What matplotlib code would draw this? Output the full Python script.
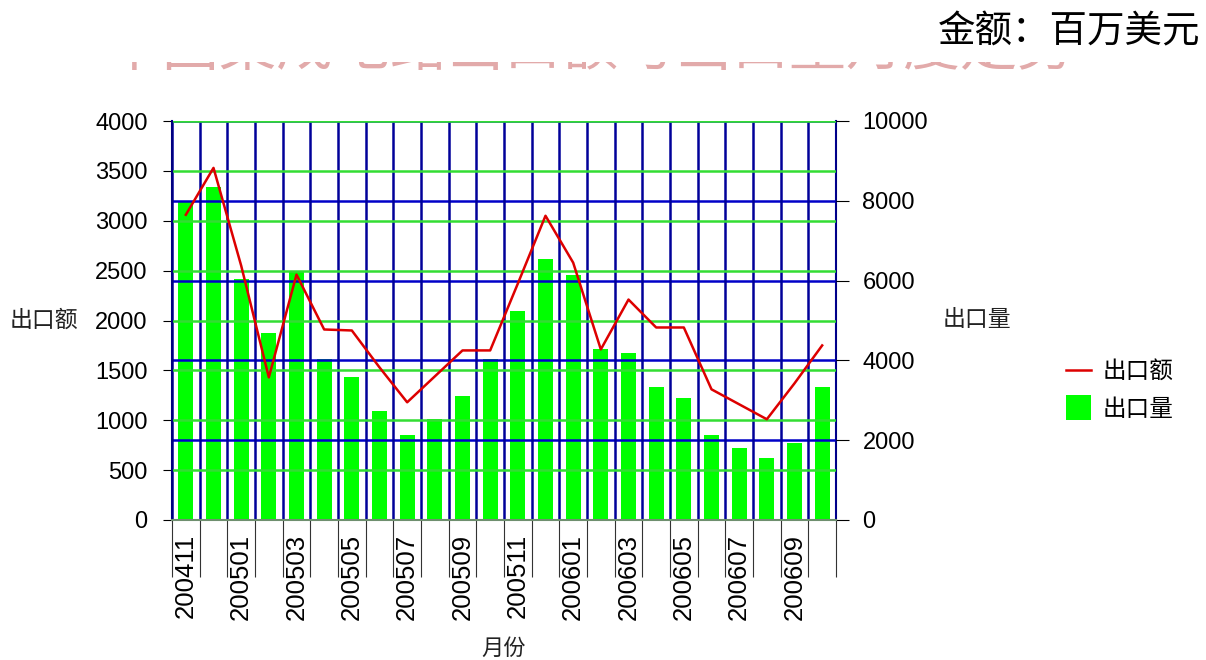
import matplotlib
matplotlib.use("Agg")
import matplotlib.pyplot as plt
from matplotlib.lines import Line2D
from matplotlib.patches import Rectangle
import numpy as np

# ---------------- data ----------------
months = ["200411", "200412", "200501", "200502", "200503", "200504",
          "200505", "200506", "200507", "200508", "200509", "200510",
          "200511", "200512", "200601", "200602", "200603", "200604",
          "200605", "200606", "200607", "200608", "200609", "200610"]
export_value = [3060, 3530, 2550, 1430, 2460, 1910, 1900, 1530, 1180, 1440,
                1700, 1700, 2370, 3050, 2580, 1710, 2210, 1930, 1930, 1310,
                1160, 1010, 1370, 1750]            # 出口额 (left axis)
export_volume = [8000, 8350, 6030, 4680, 6220, 4030, 3580, 2720, 2120, 2520,
                 3120, 4030, 5230, 6530, 6140, 4280, 4180, 3330, 3070, 2120,
                 1810, 1560, 1920, 3330]           # 出口量 (right axis)
left_ticks = [0, 500, 1000, 1500, 2000, 2500, 3000, 3500, 4000]
right_ticks = [0, 2000, 4000, 6000, 8000, 10000]

title_text = "金额：百万美元"
hidden_title = "中国集成电路出口额与出口量月度走势"
value_label = "出口额"
volume_label = "出口量"
x_label = "月份"

CJK = ["Noto Sans CJK SC", "DejaVu Sans"]
NUM = ["Liberation Sans", "DejaVu Sans"]

W, H = 1206, 660
fig = plt.figure(figsize=(W / 100, H / 100), dpi=100)
fig.patch.set_facecolor("white")

L, R, T, B = 172, 836, 121, 520
ax = fig.add_axes([L / W, 1 - B / H, (R - L) / W, (B - T) / H])
axb = ax.twinx()
ax.set_zorder(axb.get_zorder() + 1)
ax.patch.set_visible(False)

x = np.arange(len(months))

# bars on right axis
axb.bar(x, export_volume, width=0.55, color="#00ff00", zorder=1, linewidth=0)
axb.set_ylim(right_ticks[0], right_ticks[-1])
axb.set_yticks(right_ticks)
axb.set_axisbelow(False)
axb.yaxis.grid(True, color="#0000c8", lw=1.8)
axb.tick_params(axis="y", length=9, width=0.8, color="black", pad=10,
                labelsize=17)
for lab in axb.get_yticklabels():
    lab.set_family(NUM)

# line on left axis
ax.plot(x, export_value, color="#dd0000", lw=1.8, zorder=5)
ax.set_ylim(left_ticks[0], left_ticks[-1])
ax.set_yticks(left_ticks)
ax.set_xlim(-0.5, len(months) - 0.5)
ax.set_axisbelow(True)
ax.yaxis.grid(True, color="#33dd33", lw=1.8)
ax.set_xticks(x[::2])
ax.set_xticklabels(months[::2], rotation=90, family=NUM, fontsize=18.5)
ax.set_xticks(np.arange(len(months) + 1) - 0.5, minor=True)
ax.xaxis.grid(True, which="minor", color="#000099", lw=1.8)
ax.xaxis.grid(False, which="major")
ax.tick_params(axis="x", which="major", length=0, pad=10)
ax.tick_params(axis="x", which="minor", length=41, width=0.8,
               color="#333333", direction="out")
ax.tick_params(axis="y", length=6.5, width=0.8, color="black", pad=11,
               labelsize=17)
for lab in ax.get_yticklabels():
    lab.set_family(NUM)

# spines
for s in ["top", "right"]:
    ax.spines[s].set_visible(False)
for s in ["top", "left", "bottom"]:
    axb.spines[s].set_visible(False)
ax.spines["left"].set_color("#000080")
ax.spines["left"].set_linewidth(1.5)
ax.spines["bottom"].set_color("#6f8f6f")
ax.spines["bottom"].set_linewidth(1.5)
axb.spines["right"].set_color("#000080")
axb.spines["right"].set_linewidth(1.5)

# axis labels
fig.text(10 / W, 1 - 320 / H, value_label, family=CJK, fontsize=16.5,
         ha="left", va="center", color="#222222")
fig.text(943 / W, 1 - 320 / H, volume_label, family=CJK, fontsize=16.5,
         ha="left", va="center", color="#222222")
fig.text((L + R) / 2 / W, 1 - 648 / H, x_label, family=CJK, fontsize=16,
         ha="center", va="center", color="#222222")

# pink title remnants: only the lower edge of the glyphs is visible
fig.text(590 / W, 1 - 78 / H, hidden_title, family=CJK, fontsize=41,
         ha="center", va="bottom", color="#e2aaaa", zorder=1)
cover = Rectangle((0, 1 - 62 / H), 1, 62 / H, transform=fig.transFigure,
                  facecolor="white", edgecolor="none", zorder=2)
fig.add_artist(cover)

# title (right)
fig.text(1200 / W, 1 - 32 / H, title_text, family=CJK, fontsize=27,
         ha="right", va="center", color="black", zorder=3)

# legend
handles = [Line2D([], [], color="#dd0000", lw=1.8),
           Line2D([], [], marker="s", markersize=18, linestyle="None",
                  color="#00ff00", markeredgewidth=0)]
fig.legend(handles, [value_label, volume_label], loc="upper left",
           bbox_to_anchor=(1066 / W, 1 - 360 / H), frameon=False,
           borderpad=0, borderaxespad=0, handlelength=1.05,
           handletextpad=0.5, labelspacing=0.62,
           prop={"family": CJK, "size": 17})

fig.savefig("out.png", dpi=100, facecolor="white")
